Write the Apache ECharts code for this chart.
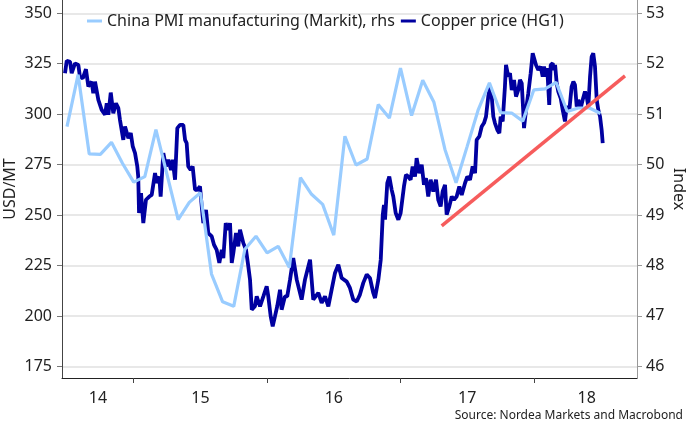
<!DOCTYPE html>
<html>
<head>
<meta charset="utf-8">
<script src="https://cdn.jsdelivr.net/npm/echarts/dist/echarts.min.js"></script>
</head>
<body style="margin:0">
<div id="main" style="width: 689px;height:427px;"></div>
<script type="text/javascript">
    // copper price (HG1), x as decimal year
    var copperX = [
        2014.485, 2014.498, 2014.523, 2014.535, 2014.560, 2014.585, 2014.597, 2014.618, 2014.642, 2014.660,
        2014.685, 2014.697, 2014.710, 2014.735, 2014.760, 2014.785, 2014.798, 2014.810, 2014.828, 2014.847,
        2014.867, 2014.885, 2014.897, 2014.922, 2014.935, 2014.960, 2014.978, 2014.993, 2015.010, 2015.027,
        2015.034, 2015.040, 2015.055, 2015.072, 2015.092, 2015.117, 2015.135, 2015.160, 2015.172, 2015.192,
        2015.202, 2015.222, 2015.242, 2015.259, 2015.280, 2015.292, 2015.310, 2015.327, 2015.347, 2015.372,
        2015.385, 2015.397, 2015.409, 2015.427, 2015.442, 2015.460, 2015.477, 2015.497, 2015.510, 2015.522,
        2015.542, 2015.559, 2015.585, 2015.602, 2015.622, 2015.642, 2015.660, 2015.672, 2015.690, 2015.709,
        2015.722, 2015.735, 2015.747, 2015.767, 2015.784, 2015.797, 2015.822, 2015.842, 2015.859, 2015.872,
        2015.885, 2015.909, 2015.922, 2015.947, 2015.972, 2015.997, 2016.009, 2016.027, 2016.042, 2016.059,
        2016.076, 2016.097, 2016.109, 2016.134, 2016.151, 2016.172, 2016.196, 2016.222, 2016.259, 2016.284,
        2016.322, 2016.346, 2016.384, 2016.409, 2016.434, 2016.459, 2016.484, 2016.509, 2016.534, 2016.559,
        2016.597, 2016.621, 2016.646, 2016.672, 2016.696, 2016.721, 2016.747, 2016.771, 2016.796, 2016.809,
        2016.834, 2016.852, 2016.867, 2016.876, 2016.884, 2016.901, 2016.916, 2016.934, 2016.946, 2016.964,
        2016.984, 2017.001, 2017.026, 2017.041, 2017.058, 2017.076, 2017.091, 2017.109, 2017.121, 2017.141,
        2017.159, 2017.176, 2017.191, 2017.208, 2017.226, 2017.246, 2017.266, 2017.283, 2017.301, 2017.316,
        2017.334, 2017.346, 2017.366, 2017.384, 2017.401, 2017.421, 2017.441, 2017.459, 2017.471, 2017.484,
        2017.501, 2017.521, 2017.541, 2017.559, 2017.571, 2017.591, 2017.609, 2017.626, 2017.641, 2017.658,
        2017.671, 2017.684, 2017.696, 2017.708, 2017.726, 2017.741, 2017.751, 2017.766, 2017.783, 2017.791,
        2017.808, 2017.821, 2017.834, 2017.851, 2017.866, 2017.883, 2017.896, 2017.909, 2017.921, 2017.926,
        2017.941, 2017.958, 2017.976, 2017.991, 2018.001, 2018.016, 2018.033, 2018.051, 2018.066, 2018.076,
        2018.091, 2018.100, 2018.115, 2018.126, 2018.141, 2018.151, 2018.159, 2018.171, 2018.183, 2018.201,
        2018.216, 2018.233, 2018.246, 2018.266, 2018.283, 2018.296, 2018.308, 2018.321, 2018.333, 2018.351,
        2018.366, 2018.383, 2018.396, 2018.408, 2018.421, 2018.433, 2018.445, 2018.458, 2018.471, 2018.483,
        2018.496, 2018.508, 2018.516
    ];
    var copperV = [
        320.3, 326.5, 326.0, 320.3, 325.2, 324.4, 318.6, 317.8, 322.3, 313.7,
        316.1, 310.4, 316.1, 307.1, 302.1, 299.7, 305.4, 299.7, 310.7, 300.5,
        305.4, 303.0, 297.2, 287.3, 293.9, 288.1, 290.6, 284.0, 280.7, 274.1,
        269.1, 251.0, 260.9, 246.0, 257.6, 259.2, 260.0, 270.8, 265.9, 269.1,
        259.2, 280.7, 274.1, 277.4, 272.4, 277.4, 267.5, 293.1, 294.7, 294.7,
        287.3, 285.7, 274.1, 272.4, 274.1, 262.5, 262.5, 264.2, 254.3, 246.0,
        252.6, 241.1, 239.4, 235.3, 232.8, 226.3, 232.8, 228.7, 246.0, 242.7,
        246.0, 226.3, 231.2, 241.1, 234.5, 242.7, 236.1, 232.8, 224.6, 218.0,
        203.1, 204.8, 209.7, 204.8, 209.7, 214.7, 209.7, 199.8, 194.9, 199.8,
        204.8, 213.0, 203.1, 209.7, 209.7, 218.0, 228.7, 218.0, 208.1, 218.0,
        227.9, 208.1, 211.4, 206.5, 209.7, 204.8, 213.0, 221.3, 225.4, 218.8,
        217.0, 213.9, 208.1, 207.2, 210.6, 216.4, 220.5, 218.8, 211.4, 208.9,
        218.0, 227.9, 250.0, 255.0, 247.7, 265.9, 269.1, 262.5, 259.2, 251.0,
        247.7, 251.0, 264.2, 270.0, 269.1, 267.5, 274.1, 269.1, 278.2, 270.8,
        274.9, 265.0, 268.3, 259.2, 267.5, 261.7, 267.5, 257.6, 254.3, 261.7,
        265.0, 250.2, 254.3, 259.2, 257.6, 259.2, 264.2, 260.0, 259.2, 265.9,
        269.1, 267.5, 274.1, 270.8, 287.3, 289.0, 293.9, 295.6, 298.8, 308.7,
        313.7, 308.7, 298.8, 295.6, 292.2, 290.6, 298.8, 296.4, 313.7, 324.4,
        318.6, 320.3, 312.0, 317.0, 308.7, 312.0, 317.0, 315.3, 300.5, 293.1,
        302.1, 310.4, 320.3, 330.2, 331.0, 324.4, 321.9, 323.6, 318.6, 323.6,
        318.6, 322.8, 304.6, 324.4, 325.2, 321.9, 324.4, 315.3, 311.2, 307.9,
        302.1, 296.4, 303.8, 302.1, 313.7, 316.1, 314.5, 303.8, 307.1, 303.0,
        307.1, 311.2, 308.7, 303.8, 318.6, 328.5, 330.2, 323.6, 307.1, 302.1,
        298.8, 292.2, 285.7
    ];

    // China PMI manufacturing (Markit), monthly, right axis
    var pmiMonths = [
        '2014-06', '2014-07', '2014-08', '2014-09', '2014-10', '2014-11', '2014-12',
        '2015-01', '2015-02', '2015-03', '2015-04', '2015-05', '2015-06', '2015-07', '2015-08', '2015-09', '2015-10', '2015-11', '2015-12',
        '2016-01', '2016-02', '2016-03', '2016-04', '2016-05', '2016-06', '2016-07', '2016-08', '2016-09', '2016-10', '2016-11', '2016-12',
        '2017-01', '2017-02', '2017-03', '2017-04', '2017-05', '2017-06', '2017-07', '2017-08', '2017-09', '2017-10', '2017-11', '2017-12',
        '2018-01', '2018-02', '2018-03', '2018-04', '2018-05', '2018-06'
    ];
    var pmiV = [
        50.75, 51.78, 50.21, 50.20, 50.44, 50.02, 49.65,
        49.76, 50.69, 49.80, 48.91, 49.25, 49.44, 47.83, 47.28, 47.19, 48.32, 48.58, 48.25,
        48.38, 47.96, 49.74, 49.41, 49.21, 48.60, 50.56, 49.99, 50.11, 51.19, 50.92, 51.91,
        50.97, 51.67, 51.24, 50.30, 49.64, 50.36, 51.09, 51.62, 51.03, 51.02, 50.86, 51.48,
        51.50, 51.63, 51.05, 51.12, 51.12, 51.01
    ];

    // red trend line drawn on the copper axis
    var trendX = [2017.309, 2018.683];
    var trendV = [244.7, 319.0];

    var leftTicks = [175, 200, 225, 250, 275, 300, 325, 350];
    var rightTicks = [46, 47, 48, 49, 50, 51, 52, 53];
    var yearTicks = [2015, 2016, 2017, 2018];
    var yearLabelPos = [2014.732, 2015.5, 2016.5, 2017.5, 2018.396];
    var yearLabels = ['14', '15', '16', '17', '18'];

    function monthEnd(s) {
        var p = s.split('-');
        return +p[0] + (+p[1]) / 12;
    }

    var font = 'Noto Sans';
    var myChart = echarts.init(document.getElementById('main'));

    var option = {
        backgroundColor: '#fff',
        animation: false,
        title: {
            text: 'Source: Nordea Markets and Macrobond',
            right: 1,
            bottom: 0,
            textStyle: {fontFamily: font, fontSize: 12, fontWeight: 'normal', color: '#222'}
        },
        legend: {
            data: ['China PMI manufacturing (Markit), rhs', 'Copper price (HG1)'],
            top: 8,
            left: 82,
            icon: 'rect',
            itemWidth: 15,
            itemHeight: 3,
            itemGap: 6,
            textStyle: {fontFamily: font, fontSize: 16, color: '#222'}
        },
        grid: {left: 62, right: 52, top: 0, bottom: 49, containLabel: false, outerBoundsMode: 'none'},
        xAxis: {
            type: 'value',
            min: 2014.4625,
            max: 2018.773,
            axisLine: {lineStyle: {color: '#222', width: 1}},
            axisTick: {customValues: yearTicks, length: 5, lineStyle: {color: '#444'}},
            axisLabel: {
                customValues: yearLabelPos,
                margin: 12,
                fontFamily: font, fontSize: 16, color: '#222',
                formatter: function (v) {
                    return yearLabels[yearLabelPos.indexOf(v)];
                }
            },
            splitLine: {show: false}
        },
        yAxis: [{
            type: 'value',
            position: 'left',
            min: 169.26,
            max: 356.59,
            name: 'USD/MT',
            nameLocation: 'middle',
            nameRotate: 90,
            nameGap: 44,
            nameMoveOverlap: false,
            nameTextStyle: {fontFamily: font, fontSize: 16, color: '#222'},
            axisLine: {show: true, lineStyle: {color: '#444', width: 1}},
            axisTick: {show: true, customValues: leftTicks, length: 5, lineStyle: {color: '#777'}},
            axisLabel: {customValues: leftTicks, margin: 10, fontFamily: font, fontSize: 16, color: '#222'},
            splitLine: {show: true, lineStyle: {color: '#e8e8e8', width: 2}}
        }, {
            type: 'value',
            position: 'right',
            min: 45.77,
            max: 53.26,
            name: 'Index',
            nameLocation: 'middle',
            nameRotate: -90,
            nameGap: 34,
            nameMoveOverlap: false,
            nameTextStyle: {fontFamily: font, fontSize: 16, color: '#222'},
            axisLine: {show: true, lineStyle: {color: '#999', width: 1}},
            axisTick: {show: true, customValues: rightTicks, length: 5, lineStyle: {color: '#999'}},
            axisLabel: {customValues: rightTicks, margin: 9, fontFamily: font, fontSize: 16, color: '#222'},
            splitLine: {show: false}
        }],
        series: [{
            name: 'Copper price (HG1)',
            type: 'line',
            yAxisIndex: 0,
            showSymbol: false,
            color: '#0000a0',
            lineStyle: {width: 3.8, color: '#0000a0'},
            data: copperX.map(function (x, i) {
                return [x, copperV[i]];
            })
        }, {
            name: 'China PMI manufacturing (Markit), rhs',
            type: 'line',
            yAxisIndex: 1,
            showSymbol: false,
            color: '#99ccff',
            lineStyle: {width: 3.2, color: '#99ccff'},
            data: pmiMonths.map(function (m, i) {
                return [monthEnd(m), pmiV[i]];
            })
        }, {
            name: 'trend',
            type: 'line',
            yAxisIndex: 0,
            showSymbol: false,
            color: '#f65c5c',
            lineStyle: {width: 3.5, color: '#f65c5c'},
            data: trendX.map(function (x, i) {
                return [x, trendV[i]];
            })
        }]
    };
    myChart.setOption(option);
</script>
</body>
</html>
